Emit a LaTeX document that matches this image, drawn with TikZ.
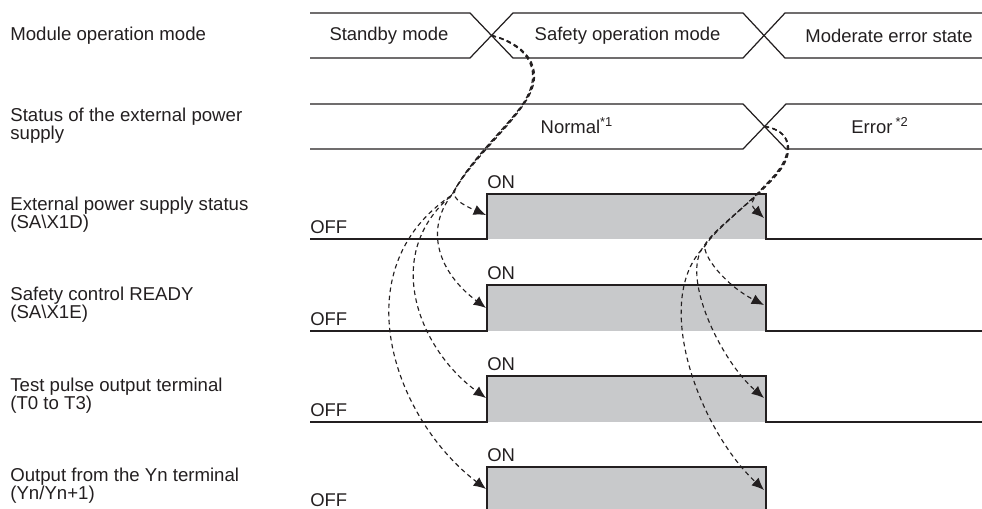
\documentclass[tikz,border=0pt]{standalone}
\usepackage{fontspec}
\setmainfont{Liberation Sans}
\usetikzlibrary{arrows.meta}

\definecolor{tcLine}{RGB}{35,31,32}
\definecolor{tcFill}{RGB}{200,201,203}
\definecolor{tcText}{RGB}{35,31,32}

\tikzset{
  busline/.style={draw=tcLine, line width=0.7pt},
  sigline/.style={draw=tcLine, line width=0.8pt, line join=miter},
  sigfill/.style={fill=tcFill},
  flow/.style={draw=tcLine, line width=0.65pt, dash pattern=on 2.6pt off 2pt,
    -{Latex[length=7pt, width=6pt]}},
  rowlabel/.style={anchor=west, align=left, inner sep=0pt, text=tcText,
    font=\fontsize{10.6}{10.3}\selectfont},
  lvltext/.style={anchor=west, inner sep=0pt, text=tcText,
    font=\fontsize{10.5}{12}\selectfont},
  modetext/.style={inner sep=0pt, text=tcText, font=\fontsize{10.5}{12}\selectfont},
}

\begin{document}
\begin{tikzpicture}[x=0.02cm, y=-0.02cm]
\useasboundingbox (0,0) rectangle (982,509);
%% ── Row labels ───────────────────────────────────────────────────────────
\node[rowlabel] (lMode)  at (10,36)  {Module operation mode};
\node[rowlabel] (lPower) at (10,126) {Status of the external power\\supply};
\node[rowlabel] (lX1D)   at (10,215) {External power supply status\\(SA\textbackslash X1D)};
\node[rowlabel] (lX1E)   at (10,305) {Safety control READY\\(SA\textbackslash X1E)};
\node[rowlabel] (lTest)  at (10,396) {Test pulse output terminal\\(T0 to T3)};
\node[rowlabel] (lYn)    at (10,486) {Output from the Yn terminal\\(Yn/Yn+1)};
%% ── Module operation mode bus ────────────────────────────────────────────
\draw[busline] (310,13) -- (470,13) -- (513,58) -- (743,58) -- (785,13) -- (982,13);
\draw[busline] (310,58) -- (470,58) -- (513,13) -- (743,13) -- (785,58) -- (982,58);
\node[modetext] (mStandby) at (389,36)   {Standby mode};
\node[modetext] (mSafety)  at (627.5,36) {Safety operation mode};
\node[modetext] (mError)   at (889,36)   {Moderate error state};
\coordinate (xStart) at (491.5,35.5);
%% ── External power supply bus ────────────────────────────────────────────
\draw[busline] (310,104) -- (743,104) -- (786,149) -- (982,149);
\draw[busline] (310,149) -- (743,149) -- (786,104) -- (982,104);
\node[modetext] (pNormal) at (577,126) {Normal\textsuperscript{*1}};
\node[modetext] (pError)  at (880,126) {Error\,\textsuperscript{*2}};
\coordinate (xErr) at (764.5,126.5);
%% ── SA\X1D ───────────────────────────────────────────────────────────────
\fill[sigfill] (487,194) rectangle (766,239);
\draw[sigline] (310,239) -- (487,239) -- (487,194) -- (766,194) -- (766,239) -- (982,239);
\node[lvltext] (onA)  at (487,182) {ON};
\node[lvltext] (offA) at (310,227) {OFF};
\coordinate (upA) at (486,215);
\coordinate (dnA) at (764,218);
%% ── SA\X1E ───────────────────────────────────────────────────────────────
\fill[sigfill] (487,285) rectangle (766,331);
\draw[sigline] (310,331) -- (487,331) -- (487,285) -- (766,285) -- (766,331) -- (982,331);
\node[lvltext] (onB)  at (487,273) {ON};
\node[lvltext] (offB) at (310,319) {OFF};
\coordinate (upB) at (486,308);
\coordinate (dnB) at (764,305);
%% ── T0 to T3 ─────────────────────────────────────────────────────────────
\fill[sigfill] (487,376) rectangle (766,422);
\draw[sigline] (310,422) -- (487,422) -- (487,376) -- (766,376) -- (766,422) -- (982,422);
\node[lvltext] (onC)  at (487,364) {ON};
\node[lvltext] (offC) at (310,410) {OFF};
\coordinate (upC) at (486,398);
\coordinate (dnC) at (764,398);
%% ── Yn/Yn+1 ──────────────────────────────────────────────────────────────
\fill[sigfill] (487,467) rectangle (766,509);
\draw[sigline] (487,509) -- (487,467) -- (766,467) -- (766,509);
\node[lvltext] (onD)  at (487,455) {ON};
\node[lvltext] (offD) at (310,500) {OFF};
\coordinate (upD) at (486,489);
\coordinate (dnD) at (764,490);
%% ── Start of safety operation ────────────────────────────────────────────
\draw[flow] (xStart) .. controls (520,42) and (550,65) .. (523,104)
  .. controls (505,130) and (470,160) .. (455,190)
  .. controls (450,200) and (470,208) .. (upA);
\draw[flow] (xStart) .. controls (521,42) and (551,66) .. (524,104)
  .. controls (506,131) and (470,162) .. (451,196)
  .. controls (425,230) and (438,272) .. (upB);
\draw[flow] (xStart) .. controls (519,43) and (549,65) .. (522,105)
  .. controls (504,130) and (469,161) .. (452,195)
  .. controls (380,255) and (420,350) .. (upC);
\draw[flow] (xStart) .. controls (520,43) and (550,66) .. (523,105)
  .. controls (505,131) and (469,162) .. (452,195)
  .. controls (340,270) and (395,420) .. (upD);
%% ── External power supply error ──────────────────────────────────────────
\draw[flow] (xErr) .. controls (790,130) and (795,150) .. (778,172)
  .. controls (752,198) and (748,203) .. (dnA);
\draw[flow] (xErr) .. controls (790,131) and (796,150) .. (779,172)
  .. controls (758,198) and (715,228) .. (705,245)
  .. controls (702,255) and (725,285) .. (dnB);
\draw[flow] (xErr) .. controls (791,130) and (795,151) .. (778,173)
  .. controls (757,199) and (714,228) .. (704,246)
  .. controls (680,275) and (720,360) .. (dnC);
\draw[flow] (xErr) .. controls (790,130) and (794,150) .. (777,172)
  .. controls (757,198) and (715,229) .. (705,246)
  .. controls (650,300) and (700,430) .. (dnD);
\end{tikzpicture}
\end{document}
